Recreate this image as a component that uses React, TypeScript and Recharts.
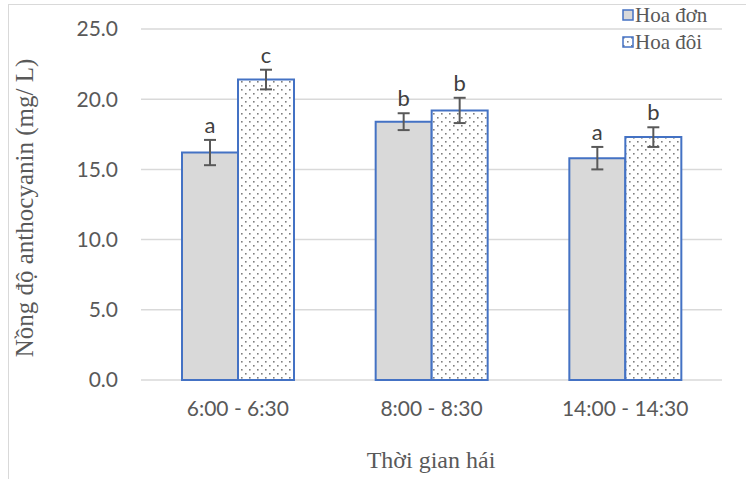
import React from 'react';
import {
  BarChart, Bar, XAxis, YAxis, CartesianGrid, ErrorBar, LabelList, Label,
} from 'recharts';

const categories = ['6:00 - 6:30', '8:00 - 8:30', '14:00 - 14:30'];
const hoaDon = [16.2, 18.4, 15.8];
const hoaDoi = [21.4, 19.2, 17.3];
const hoaDonErr = [0.9, 0.6, 0.8];
const hoaDoiErr = [0.7, 0.9, 0.7];
const hoaDonLetters = ['a', 'b', 'a'];
const hoaDoiLetters = ['c', 'b', 'b'];
const yTicks = [0, 5, 10, 15, 20, 25];

const data = categories.map((cat, i) => ({
  cat,
  don: hoaDon[i],
  doi: hoaDoi[i],
  donErr: hoaDonErr[i],
  doiErr: hoaDoiErr[i],
  donLetter: hoaDonLetters[i],
  doiLetter: hoaDoiLetters[i],
}));

const tickFont = { fill: '#595959', fontSize: 21, fontFamily: 'Lato, sans-serif' };
const serif = 'Liberation Serif, serif';

// letter drawn just above the top of the error bar
const letterLabel = (vals: number[], errs: number[]) => (props: any) => {
  const { x, y, width, height, value, index } = props;
  const pxPerUnit = Math.abs(height) / vals[index];
  const top = y - errs[index] * pxPerUnit;
  return (
    <text
      x={x + width / 2}
      y={top - 7}
      textAnchor="middle"
      fill="#404040"
      fontSize={22}
      fontFamily="Lato, sans-serif"
    >
      {value}
    </text>
  );
};

function LegendBox() {
  return (
    <svg width={130} height={60} style={{ position: 'absolute', left: 618, top: 0 }}>
      <rect x={5} y={10} width={10} height={10} fill="#d9d9d9" stroke="#4472c4" strokeWidth={1.5} />
      <text x={17} y={22} fill="#595959" fontSize={21} fontFamily={serif}>Hoa đơn</text>
      <rect x={5} y={37} width={10} height={10} fill="url(#dots)" stroke="#4472c4" strokeWidth={1.5} />
      <text x={17} y={49} fill="#595959" fontSize={21} fontFamily={serif}>Hoa đôi</text>
    </svg>
  );
}

export default function App() {
  return (
    <div style={{ position: 'absolute', left: 0, top: 0, width: 746, height: 479, overflow: 'hidden', background: '#fff' }}>
      <svg width={0} height={0} style={{ position: 'absolute' }}>
        <defs>
          <pattern id="dots" width={8} height={8} patternUnits="userSpaceOnUse">
            <rect width={8} height={8} fill="#fff" />
            <rect x={1} y={1} width={1.6} height={1.6} fill="#7f7f7f" />
            <rect x={5} y={5} width={1.6} height={1.6} fill="#7f7f7f" />
          </pattern>
        </defs>
      </svg>
      <div style={{ position: 'absolute', left: 8, top: 4, width: 800, height: 520, border: '1.5px solid #d9d9d9' }} />
      <div style={{ position: 'absolute', left: 0, top: 0 }}>
        <BarChart
          width={746}
          height={479}
          data={data}
          margin={{ top: 29, right: 24, bottom: 0, left: 0 }}
          barGap={0}
          barSize={56}
        >
          <CartesianGrid vertical={false} stroke="#d9d9d9" strokeWidth={1.5} />
          <XAxis
            dataKey="cat"
            height={99}
            axisLine={false}
            tickLine={false}
            tickSize={0}
            tickMargin={21}
            tick={tickFont}
          >
            <Label
              content={() => (
                <text x={431} y={468} textAnchor="middle" fill="#595959" fontSize={24} fontFamily={serif}>
                  Thời gian hái
                </text>
              )}
            />
          </XAxis>
          <YAxis
            width={141}
            domain={[0, 25]}
            ticks={yTicks}
            axisLine={false}
            tickLine={false}
            tickSize={0}
            tickMargin={23}
            tick={tickFont}
            tickFormatter={(v: number) => v.toFixed(1)}
          >
            <Label
              content={() => (
                <text
                  x={0}
                  y={0}
                  transform="translate(33, 208) rotate(-90)"
                  textAnchor="middle"
                  fill="#595959"
                  fontSize={25}
                  fontFamily={serif}
                >
                  Nồng độ anthocyanin (mg/ L)
                </text>
              )}
            />
          </YAxis>
          <Bar dataKey="don" name="Hoa đơn" fill="#d9d9d9" stroke="#4472c4" strokeWidth={2} isAnimationActive={false}>
            <ErrorBar dataKey="donErr" width={6} stroke="#595959" strokeWidth={2} direction="y" />
            <LabelList dataKey="donLetter" content={letterLabel(hoaDon, hoaDonErr)} />
          </Bar>
          <Bar dataKey="doi" name="Hoa đôi" fill="url(#dots)" stroke="#4472c4" strokeWidth={2} isAnimationActive={false}>
            <ErrorBar dataKey="doiErr" width={6} stroke="#595959" strokeWidth={2} direction="y" />
            <LabelList dataKey="doiLetter" content={letterLabel(hoaDoi, hoaDoiErr)} />
          </Bar>
        </BarChart>
      </div>
      <LegendBox />
    </div>
  );
}
